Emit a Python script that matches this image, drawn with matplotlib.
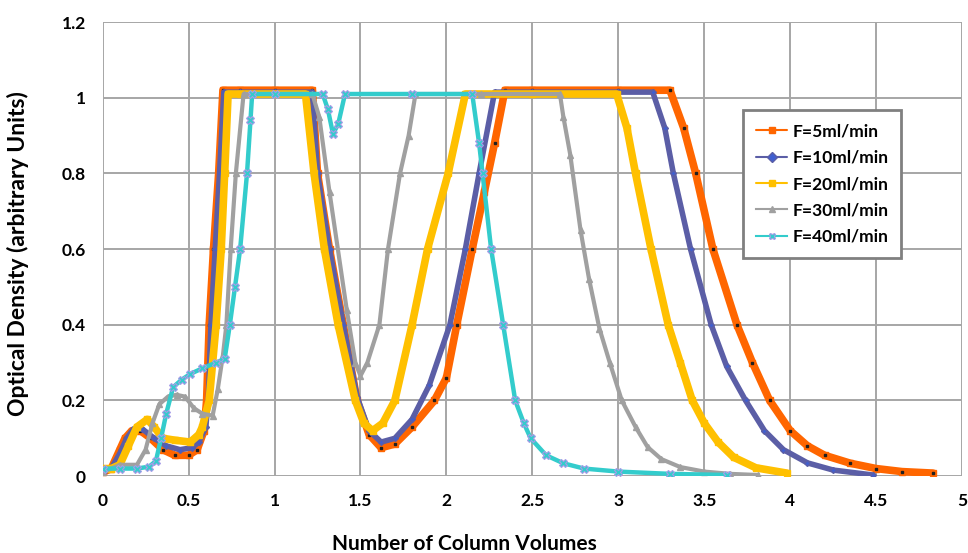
import numpy as np
from matplotlib import pyplot as plt

plt.rcParams['font.family'] = ['Lato', 'DejaVu Sans']
plt.rcParams['font.weight'] = 'bold'

# F = 5 ml/min
x5 = [0, 0.05, 0.1, 0.13, 0.17, 0.22, 0.28, 0.35, 0.42, 0.5, 0.55, 0.59, 0.605, 0.62, 0.645, 0.675, 0.7,
      0.8, 1.0, 1.22, 1.25, 1.32, 1.40, 1.48, 1.55, 1.62, 1.7, 1.8, 1.93, 2.0, 2.06, 2.15, 2.22, 2.28, 2.34,
      2.5, 3.0, 3.3, 3.38, 3.45, 3.55, 3.69, 3.78, 3.88, 4.0, 4.1, 4.2, 4.35, 4.5, 4.65, 4.83]
y5 = [0.01, 0.02, 0.07, 0.10, 0.12, 0.12, 0.10, 0.07, 0.055, 0.055, 0.07, 0.12, 0.2, 0.4, 0.6, 0.8, 1.02,
      1.02, 1.02, 1.02, 0.8, 0.6, 0.4, 0.2, 0.11, 0.075, 0.085, 0.13, 0.2, 0.26, 0.4, 0.6, 0.75, 0.88, 1.02,
      1.02, 1.02, 1.02, 0.92, 0.8, 0.6, 0.4, 0.3, 0.2, 0.12, 0.08, 0.055, 0.034, 0.02, 0.012, 0.008]

# F = 10 ml/min
x10 = [0, 0.05, 0.1, 0.14, 0.18, 0.23, 0.3, 0.37, 0.45, 0.52, 0.56, 0.6, 0.615, 0.63, 0.655, 0.68, 0.705,
       0.8, 1.0, 1.22, 1.25, 1.32, 1.40, 1.48, 1.55, 1.62, 1.7, 1.8, 1.9, 2.02, 2.11, 2.19, 2.28,
       2.5, 3.0, 3.2, 3.27, 3.32, 3.42, 3.54, 3.63, 3.74, 3.85, 3.96, 4.1, 4.25, 4.48]
y10 = [0.01, 0.02, 0.06, 0.10, 0.125, 0.125, 0.10, 0.08, 0.07, 0.075, 0.09, 0.13, 0.2, 0.4, 0.6, 0.8, 1.015,
       1.015, 1.015, 1.015, 0.8, 0.6, 0.4, 0.21, 0.12, 0.09, 0.10, 0.15, 0.24, 0.4, 0.6, 0.8, 1.015,
       1.015, 1.015, 1.015, 0.92, 0.8, 0.6, 0.4, 0.29, 0.2, 0.12, 0.07, 0.035, 0.016, 0.003]

# F = 20 ml/min
x20 = [0, 0.05, 0.1, 0.15, 0.2, 0.26, 0.3, 0.35, 0.42, 0.51, 0.56, 0.58, 0.62, 0.66, 0.69, 0.71, 0.73,
       0.8, 1.0, 1.18, 1.23, 1.29, 1.37, 1.47, 1.52, 1.57, 1.63, 1.70, 1.80, 1.89, 2.01, 2.11,
       2.5, 2.99, 3.05, 3.10, 3.19, 3.29, 3.36, 3.43, 3.5, 3.58, 3.67, 3.8, 3.98]
y20 = [0.02, 0.02, 0.03, 0.08, 0.13, 0.15, 0.13, 0.10, 0.095, 0.09, 0.11, 0.13, 0.2, 0.4, 0.6, 0.8, 1.01,
       1.01, 1.01, 1.01, 0.8, 0.6, 0.4, 0.2, 0.14, 0.12, 0.14, 0.2, 0.4, 0.6, 0.8, 1.01,
       1.01, 1.01, 0.92, 0.8, 0.6, 0.4, 0.3, 0.2, 0.14, 0.09, 0.05, 0.022, 0.008]

# F = 30 ml/min
x30 = [0, 0.1, 0.2, 0.25, 0.29, 0.33, 0.38, 0.43, 0.48, 0.53, 0.58, 0.64, 0.67, 0.7, 0.72, 0.745, 0.775, 0.82,
       1.0, 1.22, 1.26, 1.32, 1.42, 1.47, 1.5, 1.54, 1.61, 1.66, 1.73, 1.78, 1.82,
       2.2, 2.66, 2.68, 2.72, 2.78, 2.83, 2.89, 2.95, 3.02, 3.1, 3.17, 3.25, 3.36, 3.5, 3.65, 3.81]
y30 = [0.01, 0.03, 0.03, 0.07, 0.14, 0.19, 0.21, 0.215, 0.21, 0.18, 0.165, 0.16, 0.23, 0.32, 0.4, 0.6, 0.8, 1.01,
       1.01, 1.01, 0.95, 0.75, 0.44, 0.3, 0.265, 0.3, 0.4, 0.6, 0.8, 0.9, 1.01,
       1.01, 1.01, 0.95, 0.85, 0.65, 0.52, 0.39, 0.3, 0.2, 0.13, 0.077, 0.045, 0.024, 0.012, 0.006, 0.003]

# F = 40 ml/min
x40 = [0, 0.1, 0.2, 0.27, 0.31, 0.34, 0.37, 0.41, 0.46, 0.51, 0.58, 0.66, 0.71, 0.74, 0.77, 0.80, 0.84, 0.86, 0.87,
       1.0, 1.28, 1.31, 1.34, 1.37, 1.41, 1.8, 2.15, 2.19, 2.21, 2.26, 2.33, 2.4, 2.45, 2.49, 2.58, 2.68,
       2.8, 3.0, 3.3, 3.63]
y40 = [0.02, 0.02, 0.02, 0.025, 0.04, 0.1, 0.165, 0.235, 0.255, 0.27, 0.285, 0.30, 0.31, 0.4, 0.5, 0.6, 0.8, 0.94, 1.01,
       1.01, 1.01, 0.97, 0.905, 0.93, 1.01, 1.01, 1.01, 0.88, 0.8, 0.6, 0.4, 0.2, 0.14, 0.10, 0.055, 0.034,
       0.02, 0.012, 0.006, 0.003]

labels = ['F=5ml/min', 'F=10ml/min', 'F=20ml/min', 'F=30ml/min', 'F=40ml/min']

fig = plt.figure(figsize=(9.68, 5.53), dpi=100)
ax = fig.add_axes([0.106, 0.139, 0.888, 0.821])

# thick bands first, thin marker lines on top (Excel draw order)
l5, = ax.plot(x5, y5, color='#FF6600', lw=5.5, marker='s', ms=4, mfc='#FF6600', mec='#FF6600',
              solid_capstyle='round')
ax.plot(x5, y5, ls='none', marker='s', ms=1.5, color='#202020')
l10, = ax.plot(x10, y10, color='#5B5EA6', lw=4, marker='D', ms=3, mfc='#3F5FD0', mec='#5B5EA6',
               solid_capstyle='round')
l20, = ax.plot(x20, y20, color='#FFC000', lw=5.5, marker='s', ms=5, mfc='#FFC000', mec='#FFC000',
               solid_capstyle='round')
l30, = ax.plot(x30, y30, color='#A0A0A0', lw=3, marker='^', ms=5, mfc='#A0A0A0', mec='#A0A0A0')
l40, = ax.plot(x40, y40, color='#33CCCC', lw=3.2, marker='X', ms=6, mfc='#33CCCC', mec='#A99CE8', mew=0.8)

ax.set_xlim(0, 5)
ax.set_ylim(0, 1.2)
ax.set_xticks(np.arange(0, 5.01, 0.5))
ax.set_xticklabels(['0', '0.5', '1', '1.5', '2', '2.5', '3', '3.5', '4', '4.5', '5'])
ax.set_yticks(np.arange(0, 1.21, 0.2))
ax.set_yticklabels(['0', '0.2', '0.4', '0.6', '0.8', '1', '1.2'])
ax.grid(True, color='#A6A6A6', lw=1.4)
ax.set_axisbelow(True)
for s in ax.spines.values():
    s.set_visible(False)
ax.tick_params(length=0, labelsize=12.5, pad=12)
for t in ax.get_xticklabels() + ax.get_yticklabels():
    t.set_fontweight('bold')

ax.set_xlabel('Number of Column Volumes', fontsize=15, fontweight='bold')
ax.xaxis.set_label_coords(0.421, -0.128)
ax.set_ylabel('Optical Density (arbitrary Units)', fontsize=16.5, fontweight='bold')
ax.yaxis.set_label_coords(-0.086, 0.49)

leg = ax.legend([l5, l10, l20, l30, l40], labels, loc='upper left', bbox_to_anchor=(0.745, 0.806),
                borderaxespad=0, fancybox=False, framealpha=1, edgecolor='#808080',
                prop={'size': 12.5, 'weight': 'bold'}, handlelength=1.8, labelspacing=0.6,
                handletextpad=0.3, borderpad=0.75)
leg.get_frame().set_linewidth(2)
for h in leg.get_lines():
    h.set_linewidth(1.5)
    h.set_markersize(5)

fig.savefig('out.png', dpi=100)
